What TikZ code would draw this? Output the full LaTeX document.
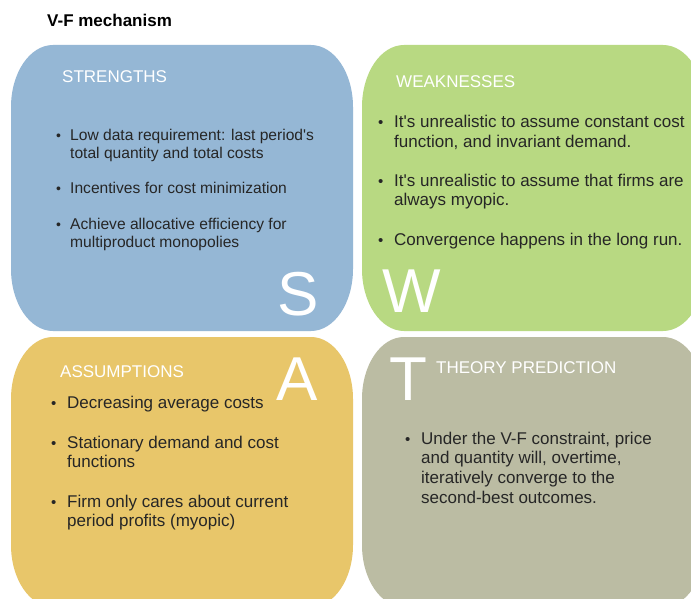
\documentclass[tikz,border=0pt]{standalone}
\usepackage{fontspec}
\setmainfont{Liberation Sans}[Ligatures=TeXOff]
\definecolor{sblue}{RGB}{149,183,213}
\definecolor{wgreen}{RGB}{184,217,130}
\definecolor{ayellow}{RGB}{232,198,106}
\definecolor{tgray}{RGB}{187,188,163}
\definecolor{txt}{RGB}{38,38,38}
\newcommand{\swotbox}[5]{%
  \fill[#1] ({#2+42},#3) -- ({#4-42},#3)
    arc[start angle=-90,end angle=0,x radius=42,y radius=62] -- (#4,{#5-62})
    arc[start angle=0,end angle=90,x radius=42,y radius=62] -- ({#2+42},#5)
    arc[start angle=90,end angle=180,x radius=42,y radius=62] -- (#2,{#3+62})
    arc[start angle=180,end angle=270,x radius=42,y radius=62] -- cycle;}
\tikzset{
  head/.style={anchor=base west, inner sep=0pt, text=white, font=\fontsize{17}{20}\selectfont},
  big/.style={anchor=base west, inner sep=0pt, text=white, font=\fontsize{62}{62}\selectfont},
  itemS/.style={anchor=base west, inner sep=0pt, text=txt, align=left, font=\fontsize{15.6}{18}\selectfont},
  item/.style={anchor=base west, inner sep=0pt, text=txt, align=left, font=\fontsize{17}{19.8}\selectfont},
  bulS/.style={anchor=base west, inner sep=0pt, text=txt, font=\fontsize{14}{18}\selectfont},
  bul/.style={anchor=base west, inner sep=0pt, text=txt, font=\fontsize{15}{19.8}\selectfont},
}
\begin{document}
\begin{tikzpicture}[x=1pt,y=-1pt]
\useasboundingbox (0,0) rectangle (691,599);
\clip (0,0) rectangle (691,599);
\fill[white] (0,0) rectangle (691,599);
% title
\node[anchor=base west, inner sep=0pt, font=\bfseries\fontsize{17}{20}\selectfont] (title) at (47,27) {V-F mechanism};
% boxes
\swotbox{sblue}{11}{45}{353}{331}
\swotbox{wgreen}{362}{45}{705}{331}
\swotbox{ayellow}{11}{337}{353}{607}
\swotbox{tgray}{362}{337}{705}{607}
% big letters
\node[big] (S) at (277,315) {S};
\node[big] (W) at (382,312) {W};
\node[big] (A) at (276,400) {A};
\node[big] (T) at (389,400) {T};
% headers
\node[head] (hS) at (62,83) {STRENGTHS};
\node[head] (hW) at (396,88) {WEAKNESSES};
\node[head] (hA) at (60,377) {ASSUMPTIONS};
\node[head] (hT) at (436,373) {THEORY PREDICTION};
% strengths (base anchor = last line)
\node[bulS] (bs1) at (56,140.5) {•};
\node[itemS] (s1) at (70,158.5) {Low data requirement: last period's\\total quantity and total costs};
\node[bulS] (bs2) at (56,193.5) {•};
\node[itemS] (s2) at (70,193.5) {Incentives for cost minimization};
\node[bulS] (bs3) at (56,229.5) {•};
\node[itemS] (s3) at (70,247.5) {Achieve allocative efficiency for\\multiproduct monopolies};
% weaknesses
\node[bul] (bw1) at (378,128) {•};
\node[item] (w1) at (394,147.8) {It's unrealistic to assume constant cost\\function, and invariant demand.};
\node[bul] (bw2) at (378,186) {•};
\node[item] (w2) at (394,205.8) {It's unrealistic to assume that firms are\\always myopic.};
\node[bul] (bw3) at (378,245) {•};
\node[item] (w3) at (394,245) {Convergence happens in the long run.};
% assumptions
\node[bul] (ba1) at (51,408) {•};
\node[item] (a1) at (67,408) {Decreasing average costs};
\node[bul] (ba2) at (51,448) {•};
\node[item] (a2) at (67,467.8) {Stationary demand and cost\\functions};
\node[bul] (ba3) at (51,507) {•};
\node[item] (a3) at (67,526.8) {Firm only cares about current\\period profits (myopic)};
% theory
\node[bul] (bt1) at (405,444) {•};
\node[item] (t1) at (421,503.4) {Under the V-F constraint, price\\and quantity will, overtime,\\iteratively converge to the\\second-best outcomes.};
\end{tikzpicture}
\end{document}
